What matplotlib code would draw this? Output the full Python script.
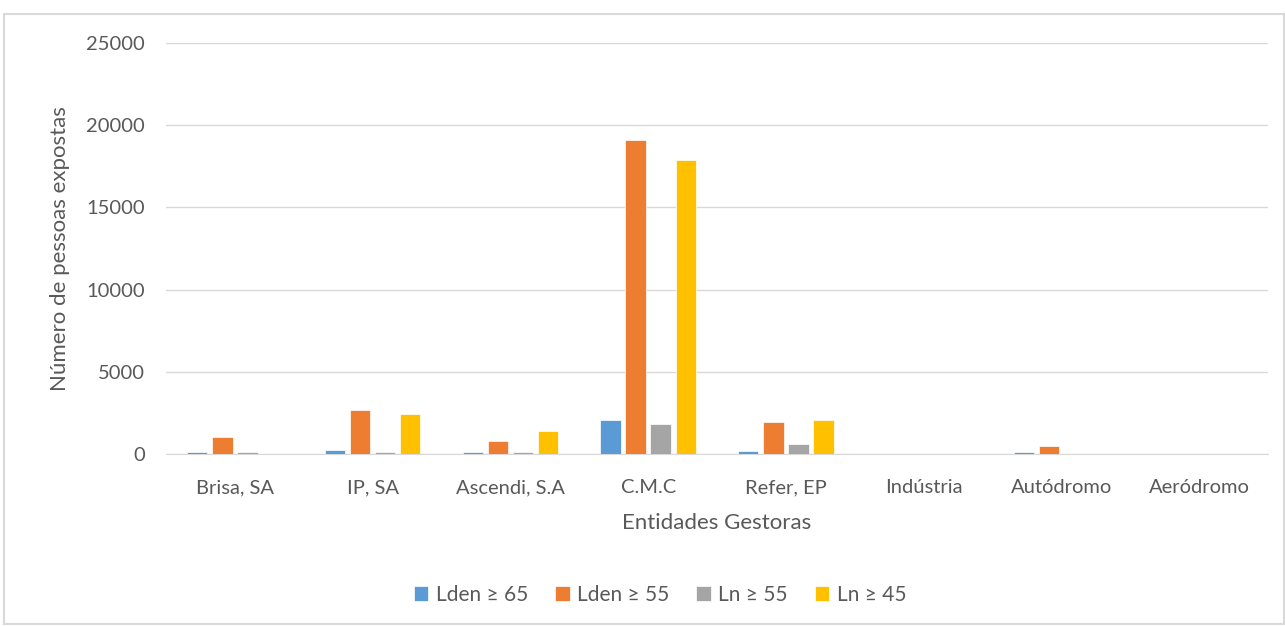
import matplotlib.pyplot as plt
import numpy as np
from matplotlib.patches import Rectangle

plt.rcParams['font.family'] = ['Lato', 'DejaVu Sans']

categories = ['Brisa, SA', 'IP, SA', 'Ascendi, S.A', 'C.M.C', 'Refer, EP',
              'Indústria', 'Autódromo', 'Aeródromo']
lden65 = [100, 250, 100, 2050, 200, 0, 100, 0]
lden55 = [1030, 2680, 800, 19100, 1960, 0, 480, 0]
ln55 = [100, 100, 100, 1800, 580, 0, 0, 0]
ln45 = [0, 2430, 1420, 17900, 2040, 0, 0, 0]
series = [('Lden ≥ 65', lden65, '#5b9bd5'),
          ('Lden ≥ 55', lden55, '#ed7d31'),
          ('Ln ≥ 55', ln55, '#a5a5a5'),
          ('Ln ≥ 45', ln45, '#ffc000')]

W, H = 1285, 626
fig = plt.figure(figsize=(W / 100, H / 100), dpi=100)
ax = fig.add_axes([166 / W, 1 - 454 / H, (1268 - 166) / W, (454 - 43) / H])

x = np.arange(len(categories))
pitch = 0.182
width = 0.148
for i, (name, vals, col) in enumerate(series):
    ax.bar(x + (i - 1.5) * pitch, vals, width, color=col, label=name,
           edgecolor='white', linewidth=0.5, zorder=3)

ax.set_xlim(-0.5, len(categories) - 0.5)
ax.set_ylim(0, 25000)
ax.set_yticks(range(0, 25001, 5000))
ax.set_xticks(x)
ax.set_xticklabels(categories)
ax.grid(axis='y', color='#d9d9d9', linewidth=1, zorder=0)
for s in ['top', 'right', 'left']:
    ax.spines[s].set_visible(False)
ax.spines['bottom'].set_color('#d9d9d9')
ax.tick_params(axis='both', length=0, colors='#595959', labelsize=14.5)
ax.tick_params(axis='x', pad=18)
ax.tick_params(axis='y', pad=15)

ax.set_xlabel('Entidades Gestoras', fontsize=16, color='#595959', labelpad=12)
ax.set_ylabel('Número de pessoas expostas', fontsize=16, color='#595959', labelpad=12)

fig.legend(loc='center', bbox_to_anchor=(660 / W, 1 - 595 / H), ncol=4,
           frameon=False, fontsize=15, handlelength=0.7, handleheight=0.7,
           handletextpad=0.35, columnspacing=1.3, labelcolor='#595959')

fig.patches.append(Rectangle((4 / W, 2 / H), 1 - 5 / W, 1 - 16 / H,
                             transform=fig.transFigure, fill=False,
                             edgecolor='#d9d9d9', linewidth=1.5))

fig.savefig('out.png', dpi=100)
